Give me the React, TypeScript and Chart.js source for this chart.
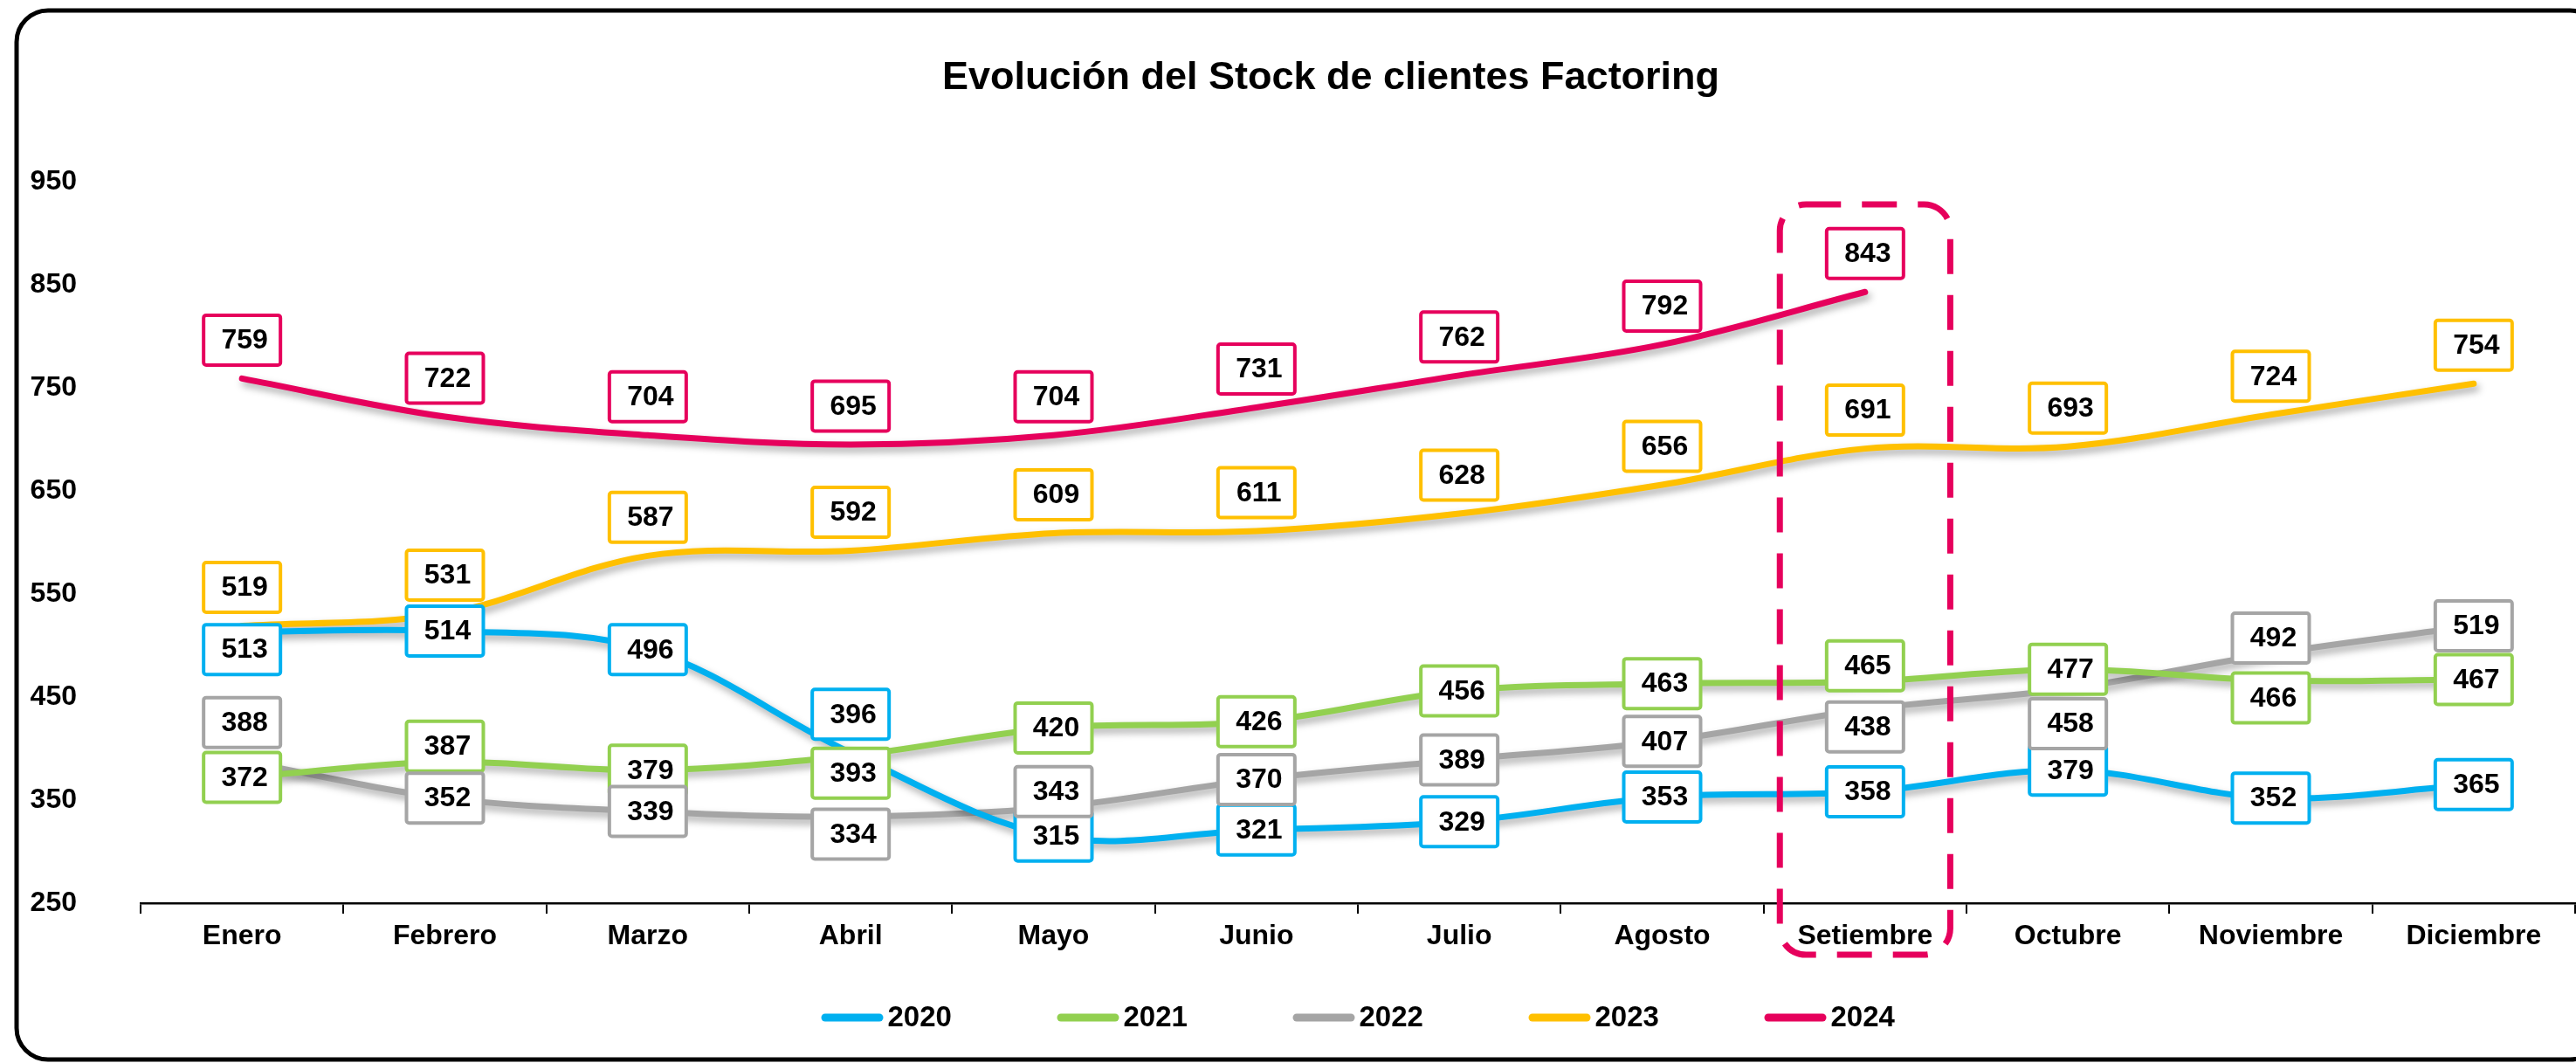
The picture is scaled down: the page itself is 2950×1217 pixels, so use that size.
import React, { useEffect, useRef } from "react";
import { Chart, registerables } from "chart.js";

Chart.register(...registerables);

// ---------- data ----------
const TITLE = "Evolución del Stock de clientes Factoring";
const MONTHS = [
  "Enero", "Febrero", "Marzo", "Abril", "Mayo", "Junio",
  "Julio", "Agosto", "Setiembre", "Octubre", "Noviembre", "Diciembre",
];
const YEARS = ["2020", "2021", "2022", "2023", "2024"];
const S2020 = [513, 514, 496, 396, 315, 321, 329, 353, 358, 379, 352, 365];
const S2021 = [372, 387, 379, 393, 420, 426, 456, 463, 465, 477, 466, 467];
const S2022 = [388, 352, 339, 334, 343, 370, 389, 407, 438, 458, 492, 519];
const S2023 = [519, 531, 587, 592, 609, 611, 628, 656, 691, 693, 724, 754];
const S2024 = [759, 722, 704, 695, 704, 731, 762, 792, 843];
const Y_MIN = 250;
const Y_MAX = 950;
const Y_STEP = 100;
const HIGHLIGHT_MONTH = "Setiembre";

// label placement keywords (a = above, ac = slightly above, c = centre, bc = slightly below, b = below)
const POS_2020 = ["bc", "c", "c", "a", "c", "c", "c", "c", "c", "c", "c", "c"];
const POS_2021 = ["c", "ac", "c", "bc", "c", "c", "c", "c", "ac", "c", "bc", "c"];
const POS_2022 = ["a", "c", "c", "bc", "ac", "c", "c", "c", "bc", "b", "ac", "c"];
const POS_2023 = ["a", "a", "a", "a", "a", "a", "a", "a", "a", "a", "a", "a"];
const POS_2024 = ["a", "a", "a", "a", "a", "a", "a", "a", "a"];

// ---------- styles ----------
const COLORS = ["#00B0F0", "#92D050", "#A5A5A5", "#FFC000", "#E6005C"];
const FONT = '"Liberation Sans", Arial, sans-serif';
const OFFSETS: Record<string, number> = { a: -44, ac: -18, c: 0, bc: 20, b: 40 };
const W = 2950;
const H = 1217;

function roundRectPath(ctx: CanvasRenderingContext2D, x: number, y: number, w: number, h: number, r: number) {
  ctx.beginPath();
  ctx.moveTo(x + r, y);
  ctx.lineTo(x + w - r, y);
  ctx.arcTo(x + w, y, x + w, y + r, r);
  ctx.lineTo(x + w, y + h - r);
  ctx.arcTo(x + w, y + h, x + w - r, y + h, r);
  ctx.lineTo(x + r, y + h);
  ctx.arcTo(x, y + h, x, y + h - r, r);
  ctx.lineTo(x, y + r);
  ctx.arcTo(x, y, x + r, y, r);
  ctx.closePath();
}

const decorPlugin = {
  id: "decor",
  beforeDatasetDraw(chart: any) {
    const ctx = chart.ctx;
    ctx.save();
    ctx.shadowColor = "rgba(0,0,0,0.35)";
    ctx.shadowBlur = 8;
    ctx.shadowOffsetX = 3;
    ctx.shadowOffsetY = 5;
  },
  afterDatasetDraw(chart: any) {
    chart.ctx.restore();
  },
  afterDatasetsDraw(chart: any) {
    const ctx: CanvasRenderingContext2D = chart.ctx;
    const xs = chart.scales.x;
    const ys = chart.scales.y;
    const area = chart.chartArea;

    // highlight dashed box
    const idx = MONTHS.indexOf(HIGHLIGHT_MONTH);
    const cx = xs.getPixelForValue(idx);
    const cw = xs.getPixelForValue(1) - xs.getPixelForValue(0);
    const hw = cw * 0.42;
    const top = ys.getPixelForValue(928);
    const bottom = area.bottom + 59;
    ctx.save();
    ctx.strokeStyle = COLORS[4];
    ctx.lineWidth = 7;
    ctx.setLineDash([40, 24]);
    roundRectPath(ctx, cx - hw, top, hw * 2, bottom - top, 30);
    ctx.stroke();
    ctx.restore();

    // data labels
    const positions = [POS_2020, POS_2021, POS_2022, POS_2023, POS_2024];
    const bw = 88;
    const bh = 57;
    chart.data.datasets.forEach((ds: any, i: number) => {
      const meta = chart.getDatasetMeta(i);
      meta.data.forEach((el: any, j: number) => {
        const v = ds.data[j];
        if (v == null) return;
        const x = el.x;
        const y = el.y + (OFFSETS[positions[i][j]] ?? 0);
        ctx.save();
        roundRectPath(ctx, x - bw / 2, y - bh / 2, bw, bh, 3);
        ctx.fillStyle = "#ffffff";
        ctx.fill();
        ctx.lineWidth = 4;
        ctx.strokeStyle = ds.borderColor;
        ctx.stroke();
        ctx.fillStyle = "#000";
        ctx.font = `bold 32px ${FONT}`;
        ctx.textAlign = "center";
        ctx.textBaseline = "middle";
        ctx.fillText(String(v), x + 3, y + 1);
        ctx.restore();
      });
    });
  },
  afterDraw(chart: any) {
    const ctx: CanvasRenderingContext2D = chart.ctx;
    const area = chart.chartArea;
    ctx.save();
    // outer rounded border
    ctx.strokeStyle = "#000";
    ctx.lineWidth = 5;
    roundRectPath(ctx, 19, 12, 2960, 1201, 36);
    ctx.stroke();

    // title
    ctx.fillStyle = "#000";
    ctx.font = `bold 45px ${FONT}`;
    ctx.textAlign = "center";
    ctx.textBaseline = "middle";
    ctx.fillText(TITLE, 1524, 90);

    // legend
    const step = 270;
    const lineLen = 71;
    const n = chart.data.datasets.length;
    const total = (n - 1) * step + 149;
    const start = (area.left + area.right) / 2 - total / 2;
    const ly = 1165;
    ctx.font = `bold 33px ${FONT}`;
    ctx.textAlign = "left";
    chart.data.datasets.forEach((ds: any, i: number) => {
      const x0 = start + i * step;
      ctx.strokeStyle = ds.borderColor;
      ctx.lineWidth = 9;
      ctx.lineCap = "round";
      ctx.beginPath();
      ctx.moveTo(x0 + 4.5, ly);
      ctx.lineTo(x0 + lineLen - 4.5, ly);
      ctx.stroke();
      ctx.fillStyle = "#000";
      ctx.fillText(ds.label, x0 + lineLen + 5, ly + 1);
    });
    ctx.restore();
  },
};

export default function App() {
  const canvasRef = useRef<HTMLCanvasElement | null>(null);

  useEffect(() => {
    document.body.style.margin = "0";
    document.body.style.overflow = "hidden";
    const canvas = canvasRef.current;
    if (!canvas) return;
    const series = [S2020, S2021, S2022, S2023, S2024];
    const tickFont = { family: FONT, size: 32, weight: "bold" as const };
    const chart = new Chart(canvas, {
      type: "line",
      data: {
        labels: MONTHS,
        datasets: series.map((s, i) => ({
          label: YEARS[i],
          data: s,
          borderColor: COLORS[i],
          backgroundColor: COLORS[i],
          borderWidth: 7,
          borderCapStyle: "round" as const,
          borderJoinStyle: "round" as const,
          tension: 0.35,
          pointRadius: 0,
          pointHoverRadius: 0,
          fill: false,
        })),
      },
      options: {
        responsive: false,
        animation: false,
        devicePixelRatio: 1,
        layout: { padding: { top: 208, left: 0, right: 1, bottom: 83 } },
        plugins: {
          legend: { display: false },
          title: { display: false },
          tooltip: { enabled: false },
        },
        scales: {
          x: {
            type: "category",
            offset: true,
            grid: {
              offset: true,
              drawOnChartArea: false,
              drawTicks: true,
              tickLength: 12,
              color: "#000",
              lineWidth: 2,
            },
            border: { display: true, color: "#000", width: 2.5 },
            ticks: {
              color: "#000",
              font: tickFont,
              padding: 7,
              maxRotation: 0,
              autoSkip: false,
            },
            afterFit: (s: any) => {
              s.height = 100;
            },
          },
          y: {
            min: Y_MIN,
            max: Y_MAX,
            ticks: {
              stepSize: Y_STEP,
              color: "#000",
              font: tickFont,
              padding: 73,
            },
            grid: { display: false, drawTicks: false },
            border: { display: false },
            afterFit: (s: any) => {
              s.width = 161;
            },
          },
        },
      },
      plugins: [decorPlugin],
    });
    return () => chart.destroy();
  }, []);

  return (
    <div style={{ width: W, height: H, background: "#fff" }}>
      <canvas ref={canvasRef} width={W} height={H} style={{ display: "block" }} />
    </div>
  );
}
